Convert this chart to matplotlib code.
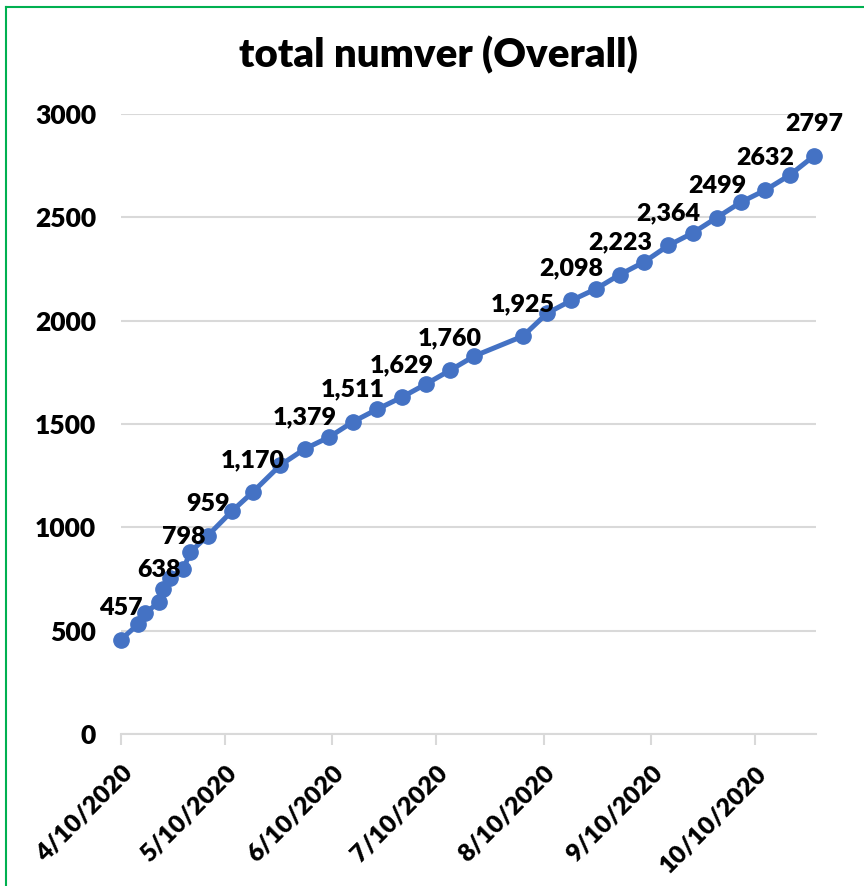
import matplotlib
matplotlib.use("Agg")
import matplotlib.pyplot as plt
import matplotlib.lines as mlines
import pandas as pd

dates = ["2020-04-10", "2020-04-15", "2020-04-17", "2020-04-21", "2020-04-22",
         "2020-04-24", "2020-04-28", "2020-04-30", "2020-05-05", "2020-05-12",
         "2020-05-18", "2020-05-26", "2020-06-02", "2020-06-09", "2020-06-16",
         "2020-06-23", "2020-06-30", "2020-07-07", "2020-07-14", "2020-07-21",
         "2020-08-04", "2020-08-11", "2020-08-18", "2020-08-25", "2020-09-01",
         "2020-09-08", "2020-09-15", "2020-09-22", "2020-09-29", "2020-10-06",
         "2020-10-13", "2020-10-20", "2020-10-27"]
values = [457, 532, 585, 638, 701, 755, 798, 880, 959, 1078,
          1170, 1301, 1379, 1436, 1511, 1572, 1629, 1693, 1760, 1829,
          1925, 2036, 2098, 2153, 2223, 2284, 2364, 2424, 2499, 2574,
          2632, 2704, 2797]
point_labels = ["457", None, None, "638", None, None, "798", None, "959", None,
                "1,170", None, "1,379", None, "1,511", None, "1,629", None, "1,760", None,
                "1,925", None, "2,098", None, "2,223", None, "2,364", None, "2499", None,
                "2632", None, "2797"]
tick_dates = ["2020-04-10", "2020-05-10", "2020-06-10", "2020-07-10",
              "2020-08-10", "2020-09-10", "2020-10-10"]
tick_labels = ["4/10/2020", "5/10/2020", "6/10/2020", "7/10/2020",
               "8/10/2020", "9/10/2020", "10/10/2020"]
y_ticks = [0, 500, 1000, 1500, 2000, 2500, 3000]
title = "total numver (Overall)"

plt.rcParams['font.family'] = ['Lato', 'DejaVu Sans']
WEIGHT = 'heavy'

W, H = 864, 886
fig = plt.figure(figsize=(W / 100, H / 100), dpi=100)
fig.patch.set_facecolor('white')

left, right, top, bottom = 121, 816, 114, 734
ax = fig.add_axes([left / W, 1 - bottom / H, (right - left) / W, (bottom - top) / H])

x = pd.to_datetime(dates)
ax.plot(x, values, color='#4472C4', linewidth=3.6, marker='o', markersize=11,
        markerfacecolor='#4472C4', markeredgecolor='#4472C4', zorder=3, clip_on=False)

for xi, vi, lab in zip(x, values, point_labels):
    if lab is not None:
        ax.annotate(lab, (xi, vi), xytext=(0, 23), textcoords='offset points',
                    ha='center', va='center', fontsize=18, fontweight=WEIGHT,
                    color='black', zorder=4)

xmin = pd.Timestamp("2020-04-10")
xmax = xmin + pd.Timedelta(days=200.6)
ax.set_xlim(xmin, xmax)
ax.set_ylim(0, 3000)

ax.set_yticks(y_ticks)
ax.set_yticklabels([str(v) for v in y_ticks], fontsize=19, fontweight=WEIGHT)
ax.tick_params(axis='y', length=0, pad=18)

tk = pd.to_datetime(tick_dates)
ax.set_xticks(tk)
ax.set_xticklabels(tick_labels, rotation=45, ha='right', va='top',
                   rotation_mode='anchor', fontsize=18, fontweight=WEIGHT)
ax.tick_params(axis='x', length=8, width=1.5, color='#D9D9D9', pad=12)

ax.grid(axis='y', color='#D9D9D9', linewidth=1.5)
ax.set_axisbelow(True)
for s in ['top', 'right', 'left']:
    ax.spines[s].set_visible(False)
ax.spines['bottom'].set_color('#D9D9D9')
ax.spines['bottom'].set_linewidth(1.5)

fig.text(438 / W, 1 - 55 / H, title, ha='center', va='center',
         fontsize=29, fontweight=WEIGHT, color='black')

# chart border (left and top visible)
fig.add_artist(mlines.Line2D([6 / W, 6 / W], [0, 1 - 7 / H], color='#00B050',
                             linewidth=1.5, transform=fig.transFigure))
fig.add_artist(mlines.Line2D([6 / W, 1], [1 - 7 / H, 1 - 7 / H], color='#00B050',
                             linewidth=1.5, transform=fig.transFigure))

fig.savefig("out.png", dpi=100, facecolor='white')
